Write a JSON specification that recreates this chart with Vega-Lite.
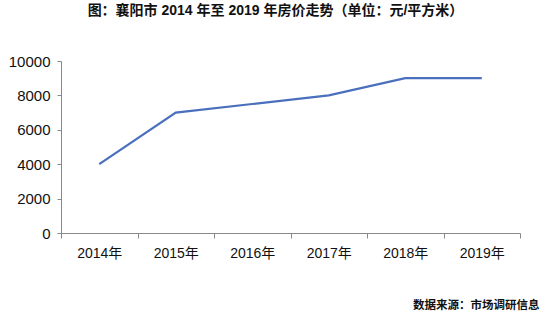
{
  "$schema": "https://vega.github.io/schema/vega-lite/v6.json",
  "width": 459,
  "height": 172,
  "autosize": {"type": "none"},
  "padding": {"left": 61, "top": 61, "right": 30, "bottom": 84},
  "background": "white",
  "config": {
    "font": "Liberation Sans, Noto Sans CJK SC",
    "view": {"stroke": null}
  },
  "title": {
    "text": "图：襄阳市 2014 年至 2019 年房价走势（单位：元/平方米）",
    "font": "Liberation Sans, Noto Sans CJK SC",
    "fontSize": 14,
    "fontWeight": "bold",
    "color": "#111111",
    "anchor": "middle",
    "dx": -15,
    "offset": 36
  },
  "data": {
    "values": [
      {"year": "2014年", "price": 4000},
      {"year": "2015年", "price": 7000},
      {"year": "2016年", "price": 7500},
      {"year": "2017年", "price": 8000},
      {"year": "2018年", "price": 9000},
      {"year": "2019年", "price": 9000}
    ]
  },
  "mark": {"type": "line", "color": "#4a6fbd", "strokeWidth": 2.2},
  "encoding": {
    "x": {
      "field": "year",
      "type": "ordinal",
      "sort": null,
      "scale": {"paddingInner": 0, "paddingOuter": 0},
      "axis": {
        "title": "数据来源：市场调研信息",
        "titleFont": "Noto Sans CJK SC",
        "titleFontSize": 11.5,
        "titleFontWeight": "bold",
        "titleColor": "#111111",
        "titleAnchor": "end",
        "titleAlign": "right",
        "titleBaseline": "middle",
        "titleX": 478,
        "titleY": 72,
        "labelAngle": 0,
        "labelFontSize": 14,
        "labelColor": "#111111",
        "labelPadding": 8,
        "domainColor": "#888888",
        "tickColor": "#888888",
        "tickSize": 5,
        "tickBand": "extent",
        "grid": false
      }
    },
    "y": {
      "field": "price",
      "type": "quantitative",
      "scale": {"domain": [0, 10000], "nice": false},
      "axis": {
        "title": null,
        "values": [0, 2000, 4000, 6000, 8000, 10000],
        "format": "d",
        "labelFontSize": 15,
        "labelColor": "#111111",
        "labelPadding": 7,
        "domainColor": "#888888",
        "tickColor": "#888888",
        "tickSize": 4,
        "grid": false
      }
    }
  }
}
